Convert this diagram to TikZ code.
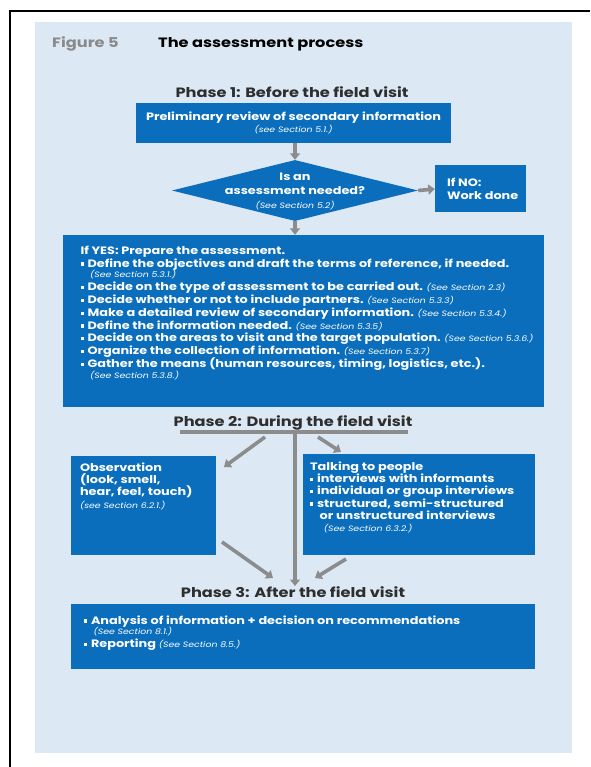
\documentclass[tikz,border=0pt]{standalone}
\usepackage{fontspec}
\setmainfont[FakeStretch=1.2]{Poppins}
\usetikzlibrary{shapes.geometric,arrows.meta}
\definecolor{boxblue}{HTML}{0A6EBD}
\definecolor{panel}{HTML}{DCE8F4}
\definecolor{arrgray}{HTML}{8C8C8C}
\definecolor{headgray}{HTML}{2E2E2E}
\definecolor{figgray}{HTML}{8A8A8A}
\newcommand\bul{\rule[0.25ex]{0.55ex}{0.55ex}\hspace{0.35em}}
\newcommand\secref[1]{{\fontsize{7.8}{9}\selectfont\itshape\mdseries #1}}
\tikzset{
  bluebox/.style={rectangle, fill=boxblue, draw=none, inner sep=0pt},
  boxtext/.style={text=white, font=\bfseries\fontsize{10.7}{12.8}\selectfont, align=left, inner sep=0pt},
  phasehead/.style={text=headgray, font=\bfseries\fontsize{13.5}{15}\selectfont, inner sep=0pt},
  flowarrow/.style={draw=arrgray, line width=3.6pt, -{Triangle[length=6.5pt,width=10pt]}},
  flowline/.style={draw=arrgray, line width=3.6pt}
}
\begin{document}
\begin{tikzpicture}[x=1pt,y=-1pt]
\useasboundingbox (0,0) rectangle (590,767);
% frame lines and panel
\coordinate (frTR) at (590,11);
\coordinate (frTL) at (10,11);
\coordinate (frBL) at (10,767);
\draw[black, line width=1.4pt] (frTR) -- (frTL) -- (frBL);
\fill[panel] (35,22) rectangle (572,753);

% title
\node[anchor=base west, text=figgray, font=\bfseries\fontsize{13.5}{15}\selectfont, inner sep=0pt] (fig) at (52,48) {Figure 5};
\node[anchor=base west, text=black, font=\bfseries\fontsize{13.5}{15}\selectfont, inner sep=0pt] (title) at (158,48) {The assessment process};

% phase 1
\node[phasehead] (ph1) at (292,92) {Phase 1: Before the field visit};
\node[bluebox, minimum width=315pt, minimum height=40pt] (prelim) at (293.5,123) {};
\node[boxtext, align=center, font=\bfseries\fontsize{10.7}{12}\selectfont] (prelimtext) at (prelim.center) {Preliminary review of secondary information\\\secref{(see Section 5.1.)}};

\node[diamond, fill=boxblue, inner sep=0pt, aspect=4.1, minimum width=246pt, minimum height=61pt] (dia) at (295,190.5) {};
\node[boxtext, align=center, font=\bfseries\fontsize{10.7}{14}\selectfont] (diatext) at ([yshift=-1pt]dia.center) {Is an\\assessment needed?\\\secref{(See Section 5.2)}};

\node[bluebox, minimum width=91pt, minimum height=47pt] (nobox) at (480.5,189) {};
\node[boxtext, anchor=west, font=\bfseries\fontsize{10.7}{13.5}\selectfont] (notext) at ([xshift=12pt]nobox.west) {If NO:\\Work done};

\node[bluebox, minimum width=481pt, minimum height=172pt] (yesbox) at (303,321) {};
\node[boxtext, anchor=north west] (yestext) at ([xshift=18pt,yshift=-11pt]yesbox.north west) {If YES: Prepare the assessment.\\
\bul Define the objectives and draft the terms of reference, if needed.\\[-2pt]
\hspace{0.9em}\secref{(See Section 5.3.1.)}\\
\bul Decide on the type of assessment to be carried out. \secref{(See Section 2.3)}\\
\bul Decide whether or not to include partners. \secref{(See Section 5.3.3)}\\
\bul Make a detailed review of secondary information. \secref{(See Section 5.3.4.)}\\
\bul Define the information needed. \secref{(See Section 5.3.5)}\\
\bul Decide on the areas to visit and the target population. \secref{(See Section 5.3.6.)}\\
\bul Organize the collection of information. \secref{(See Section 5.3.7)}\\
\bul Gather the means (human resources, timing, logistics, etc.).\\[-2pt]
\hspace{0.9em}\secref{(See Section 5.3.8.)}};

% phase 2
\node[phasehead] (ph2) at (293,423) {Phase 2: During the field visit};
\coordinate (barL) at (180,432);
\coordinate (barR) at (408,432);
\coordinate (barM) at (295,432);
\draw[flowline] (barL) -- (barR);

\node[bluebox, minimum width=145pt, minimum height=99pt] (obsbox) at (143.5,505.5) {};
\node[boxtext, anchor=north west, font=\bfseries\fontsize{10.7}{12.2}\selectfont] (obstext) at ([xshift=9pt,yshift=-7pt]obsbox.north west) {Observation\\(look, smell,\\hear, feel, touch)\\\secref{(see Section 6.2.1.)}};

\node[bluebox, minimum width=232pt, minimum height=101pt] (talkbox) at (419,504.5) {};
\node[boxtext, anchor=north west, font=\bfseries\fontsize{10.7}{12.2}\selectfont] (talktext) at ([xshift=7pt,yshift=-8pt]talkbox.north west) {Talking to people\\
\bul interviews with informants\\
\bul individual or group interviews\\
\bul structured, semi-structured\\
\hspace{0.9em}or unstructured interviews\\
\hspace{1.3em}\secref{(See Section 6.3.2.)}};

\coordinate (la1) at (265,437);
\coordinate (la2) at (224,467);
\coordinate (ra1) at (318,437);
\coordinate (ra2) at (341,452);
\draw[flowarrow] (la1) -- (la2);
\draw[flowarrow] (ra1) -- (ra2);

% phase 3
\node[phasehead] (ph3) at (293,592) {Phase 3: After the field visit};
\coordinate (cm) at (295,586);
\coordinate (lb1) at (222,542);
\coordinate (lb2) at (273,578);
\coordinate (rb1) at (346,559);
\coordinate (rb2) at (315,578);
\draw[flowarrow] (barM) -- (cm);
\draw[flowarrow] (lb1) -- (lb2);
\draw[flowarrow] (rb1) -- (rb2);

\node[bluebox, minimum width=464pt, minimum height=65pt] (p3box) at (303,636) {};
\node[boxtext, anchor=north west, font=\bfseries\fontsize{10.7}{12.8}\selectfont] (p3text) at ([xshift=13pt,yshift=-12pt]p3box.north west) {\bul Analysis of information + decision on recommendations\\[-2pt]
\hspace{0.9em}\secref{(See Section 8.1.)}\\
\bul Reporting \secref{(See Section 8.5.)}};

% phase 1 arrows
\draw[flowarrow] (prelim.south -| dia.north) -- (dia.north);
\draw[flowarrow] (dia.east) -- (nobox.west);
\draw[flowarrow] (dia.south) -- (yesbox.north -| dia.south);
\end{tikzpicture}
\end{document}
